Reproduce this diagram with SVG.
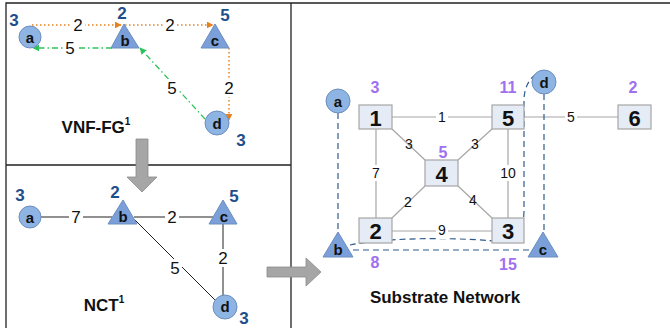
<svg xmlns="http://www.w3.org/2000/svg" width="670" height="328" viewBox="0 0 670 328">
<defs>
<style>
text{font-family:"Liberation Sans",Arial,sans-serif;text-anchor:middle;dominant-baseline:central}
.frame{stroke:#222;stroke-width:1.3;fill:none}
.vc{fill:#8EB4E3;stroke:#6C8EBF;stroke-width:1}
.vt{fill:#7A9FD9;stroke:#6C8EBF;stroke-width:1}
.vl{font-size:15px;font-weight:bold;fill:#111}
.bn{font-size:17px;font-weight:bold;fill:#1F4E8C}
.pn{font-size:16px;font-weight:bold;fill:#A070F0}
.el{font-size:17px;fill:#111}
.sl{font-size:14px;fill:#111}
.sn{fill:#E6ECF5;stroke:#A6A6A6;stroke-width:1.2}
.snl{font-size:22px;font-weight:bold;fill:#111}
.se{stroke:#A6A6A6;stroke-width:1.2;fill:none}
.ne{stroke:#222;stroke-width:1;fill:none}
.or{stroke:#E6821E;stroke-width:1.5;stroke-dasharray:1.5 2.5;fill:none}
.gr{stroke:#2EC25A;stroke-width:1.3;stroke-dasharray:6 3 1.5 3;fill:none}
.bd{stroke:#2F5A8C;stroke-width:1.2;stroke-dasharray:6 4;fill:none}
.lbg{fill:#fff;stroke:none}
.title{font-size:17px;font-weight:bold;fill:#111}
.ga{fill:#A6A6A6;stroke:#8C8C8C;stroke-width:0.8}
</style>
<marker id="ao" viewBox="0 0 10 10" refX="9" refY="5" markerWidth="7" markerHeight="7" orient="auto" markerUnits="userSpaceOnUse"><path d="M0,0 L10,5 L0,10 z" fill="#E6821E"/></marker>
<marker id="ag" viewBox="0 0 10 10" refX="9" refY="5" markerWidth="7" markerHeight="7" orient="auto" markerUnits="userSpaceOnUse"><path d="M0,0 L10,5 L0,10 z" fill="#2EC25A"/></marker>
</defs>
<rect width="670" height="328" fill="#fff"/>
<g id="frame">
<path class="frame" d="M6,328 V3 H670 M291,3 V328 M6,165 H291"/>
</g>
<g id="arrows-gray">
<path class="ga" d="M136,139 H148 V177 H157 L142,192 L127,177 H136 Z"/>
<path class="ga" d="M267,267 H306 V258 L321,272 L306,286 V277 H267 Z"/>
</g>
<g id="connectors">
<line class="or" x1="32" y1="25" x2="121" y2="25" marker-end="url(#ao)"/>
<line class="or" x1="125" y1="25" x2="213" y2="25" marker-end="url(#ao)"/>
<line class="or" x1="229" y1="48" x2="229" y2="120" marker-end="url(#ao)"/>
<line class="gr" x1="112" y1="48" x2="33" y2="48" marker-end="url(#ag)"/>
<line class="gr" x1="205" y1="119" x2="140" y2="48" marker-end="url(#ag)"/>
<line class="ne" x1="41" y1="217" x2="112" y2="217"/>
<line class="ne" x1="134" y1="217" x2="213" y2="217"/>
<line class="ne" x1="135" y1="220" x2="216" y2="301"/>
<line class="ne" x1="223" y1="224" x2="223" y2="296"/>
<line class="se" x1="392" y1="117" x2="492" y2="117"/>
<line class="se" x1="524" y1="117" x2="618" y2="117"/>
<line class="se" x1="376" y1="129" x2="376" y2="218"/>
<line class="se" x1="508" y1="129" x2="508" y2="218"/>
<line class="se" x1="392" y1="129" x2="425" y2="160"/>
<line class="se" x1="492" y1="129" x2="458" y2="160"/>
<line class="se" x1="392" y1="218" x2="425" y2="186"/>
<line class="se" x1="458" y1="186" x2="492" y2="218"/>
<line class="se" x1="392" y1="231" x2="492" y2="231"/>
<line class="bd" x1="338" y1="113" x2="338" y2="232"/>
<line class="bd" x1="353" y1="250" x2="530" y2="250"/>
<line class="bd" x1="544" y1="94" x2="544" y2="232"/>
<path class="bd" d="M350,245 C395,236 470,238 505,242 C518,241 523,232 524,212 L524,100 C524,90 528,80 535,75"/>
</g>
<g id="edge-labels">
<rect class="lbg" x="71" y="16" width="14" height="18"/><text class="el" x="78" y="25">2</text>
<rect class="lbg" x="163" y="16" width="14" height="18"/><text class="el" x="170" y="25">2</text>
<rect class="lbg" x="222" y="79" width="14" height="18"/><text class="el" x="229" y="88">2</text>
<rect class="lbg" x="63" y="39" width="14" height="18"/><text class="el" x="70" y="48">5</text>
<rect class="lbg" x="165" y="79" width="14" height="18"/><text class="el" x="172" y="88">5</text>
<rect class="lbg" x="69" y="208" width="14" height="18"/><text class="el" x="76" y="217">7</text>
<rect class="lbg" x="165" y="208" width="14" height="18"/><text class="el" x="172" y="217">2</text>
<rect class="lbg" x="168" y="259" width="14" height="18"/><text class="el" x="175" y="268">5</text>
<rect class="lbg" x="216" y="249" width="14" height="18"/><text class="el" x="223" y="258">2</text>
<rect class="lbg" x="436" y="109" width="12" height="16"/><text class="sl" x="442" y="117">1</text>
<rect class="lbg" x="565" y="109" width="12" height="16"/><text class="sl" x="571" y="117">5</text>
<rect class="lbg" x="370" y="165" width="12" height="16"/><text class="sl" x="376" y="173">7</text>
<rect class="lbg" x="498" y="165" width="20" height="16"/><text class="sl" x="508" y="173">10</text>
<text class="sl" x="409" y="144">3</text>
<text class="sl" x="475" y="144">3</text>
<text class="sl" x="408" y="202">2</text>
<text class="sl" x="473" y="200">4</text>
<rect class="lbg" x="436" y="223" width="12" height="16"/><text class="sl" x="442" y="230">9</text>
</g>
<g id="vnf-a"><circle class="vc" cx="30" cy="37" r="11"/><text class="vl" x="30" y="37">a</text><text class="bn" x="14" y="20">3</text></g>
<g id="vnf-b"><path class="vt" d="M124,24 L139,48 L111,48 Z"/><text class="vl" x="125" y="40">b</text><text class="bn" x="122" y="13">2</text></g>
<g id="vnf-c"><path class="vt" d="M215,24 L229,48 L201,48 Z"/><text class="vl" x="215" y="40">c</text><text class="bn" x="225" y="15">5</text></g>
<g id="vnf-d"><circle class="vc" cx="217" cy="123" r="12"/><text class="vl" x="217" y="123">d</text><text class="bn" x="241" y="140">3</text></g>
<g id="vnf-title"><text class="title" x="96" y="127">VNF-FG<tspan font-size="10" dy="-6">1</tspan></text></g>
<g id="nct-a"><circle class="vc" cx="30" cy="217" r="11"/><text class="vl" x="30" y="217">a</text><text class="bn" x="20" y="195">3</text></g>
<g id="nct-b"><path class="vt" d="M123,200 L137,224 L108,224 Z"/><text class="vl" x="123" y="216">b</text><text class="bn" x="115" y="192">2</text></g>
<g id="nct-c"><path class="vt" d="M223,200 L237,224 L209,224 Z"/><text class="vl" x="224" y="216">c</text><text class="bn" x="234" y="196">5</text></g>
<g id="nct-d"><circle class="vc" cx="225" cy="307" r="12"/><text class="vl" x="225" y="306">d</text><text class="bn" x="244" y="318">3</text></g>
<g id="nct-title"><text class="title" x="104" y="305">NCT<tspan font-size="10" dy="-6">1</tspan></text></g>
<g id="sn-1"><rect class="sn" x="359" y="105" width="33" height="24"/><text class="snl" x="375.5" y="118">1</text><text class="pn" x="375" y="87">3</text></g>
<g id="sn-5"><rect class="sn" x="492" y="105" width="32" height="24"/><text class="snl" x="508" y="118">5</text><text class="pn" x="508" y="87">11</text></g>
<g id="sn-6"><rect class="sn" x="618" y="105" width="33" height="24"/><text class="snl" x="634.5" y="118">6</text><text class="pn" x="633" y="87">2</text></g>
<g id="sn-4"><rect class="sn" x="425" y="160" width="33" height="26"/><text class="snl" x="441.5" y="174">4</text><text class="pn" x="443" y="152">5</text></g>
<g id="sn-2"><rect class="sn" x="359" y="218" width="33" height="25"/><text class="snl" x="375.5" y="231">2</text><text class="pn" x="375" y="262">8</text></g>
<g id="sn-3"><rect class="sn" x="492" y="218" width="32" height="25"/><text class="snl" x="508" y="231">3</text><text class="pn" x="508" y="264">15</text></g>
<g id="sub-a"><circle class="vc" cx="338" cy="101" r="12"/><text class="vl" x="338" y="101">a</text></g>
<g id="sub-b"><path class="vt" d="M338,232 L353,257 L323,257 Z"/><text class="vl" x="338" y="249">b</text></g>
<g id="sub-c"><path class="vt" d="M543,232 L558,257 L528,257 Z"/><text class="vl" x="543" y="249">c</text></g>
<g id="sub-d"><circle class="vc" cx="544" cy="82" r="12"/><text class="vl" x="544" y="82">d</text></g>
<g id="sub-title"><text class="title" x="445" y="297">Substrate Network</text></g>
</svg>
